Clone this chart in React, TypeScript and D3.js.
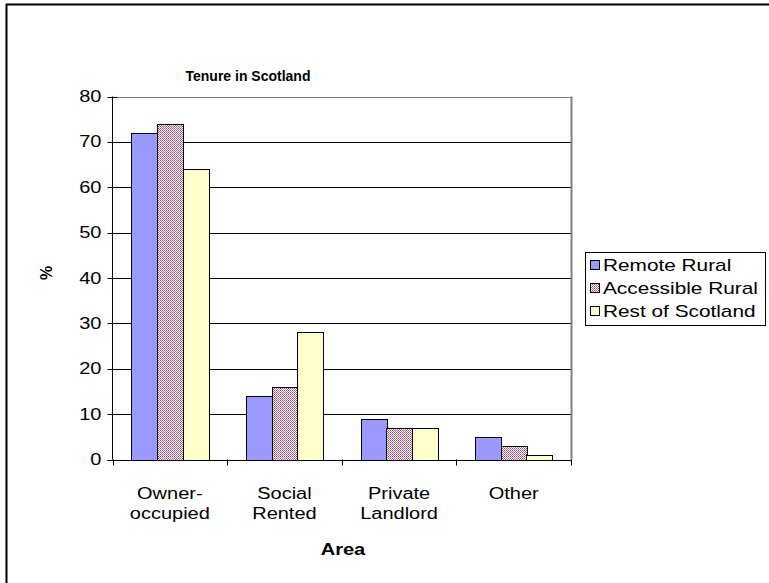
import React from "react";
import * as d3 from "d3";

const categories = ["Owner-occupied", "Social Rented", "Private Landlord", "Other"];
const categoryLines = [["Owner-", "occupied"], ["Social", "Rented"], ["Private", "Landlord"], ["Other"]];
const seriesNames = ["Remote Rural", "Accessible Rural", "Rest of Scotland"];
const remoteRural = [72, 14, 9, 5];
const accessibleRural = [74, 16, 7, 3];
const restOfScotland = [64, 28, 7, 1];
const yTicks = [0, 10, 20, 30, 40, 50, 60, 70, 80];

const seriesValues = [remoteRural, accessibleRural, restOfScotland];
const fills = ["#9999FF", "url(#hatch)", "#FFFFCC"];

const font = "Liberation Sans, Arial, sans-serif";

function SText(props: { x: number; y: number; sx: number; anchor?: string; size: number; bold?: boolean; children: React.ReactNode }) {
  return (
    <g transform={`translate(${props.x},${props.y}) scale(${props.sx},1)`}>
      <text x={0} y={0} textAnchor={props.anchor || "start"} fontFamily={font} fontSize={props.size}
        fontWeight={props.bold ? "bold" : "normal"}>{props.children}</text>
    </g>
  );
}

export default function App() {
  const W = 769, H = 583;
  const left = 112.5, right = 571, top = 96.5, bottom = 459.5;
  const y = d3.scaleLinear().domain([0, 80]).range([bottom, top]);
  const x0 = d3.scaleBand().domain(categories).range([left, right]).paddingInner(0.33).paddingOuter(0.165);
  const x1 = d3.scaleBand().domain(seriesNames).range([0, x0.bandwidth()]);
  const step = (right - left) / categories.length;
  const SX = 1.25;

  return (
    <svg width={W} height={H} style={{ position: "absolute", left: 0, top: 0 }}>
      <defs>
        <pattern id="hatch" width="2" height="2" patternUnits="userSpaceOnUse">
          <rect width="2" height="2" fill="#fff" />
          <rect x="0" y="0" width="1" height="1" fill="#a04870" />
          <rect x="1" y="1" width="1" height="1" fill="#c07898" />
        </pattern>
      </defs>
      <rect x={0} y={0} width={W} height={H} fill="#fff" />
      <rect x={6.5} y={4.5} width={900} height={900} fill="none" stroke="#000" strokeWidth={2} />
      <text x={248} y={81} textAnchor="middle" fontFamily={font} fontWeight="bold" fontSize={14}>Tenure in Scotland</text>
      {yTicks.filter(t => t > 0).map(t => (
        <line key={t} x1={left} x2={right} y1={Math.round(y(t)) + 0.5} y2={Math.round(y(t)) + 0.5}
          stroke={t === 80 ? "#808080" : "#000"} strokeWidth={1} />
      ))}
      <line x1={right + 0.5} x2={right + 0.5} y1={top} y2={bottom} stroke="#808080" strokeWidth={2} />
      {categories.map((c, ci) => (
        <g key={c}>
          {seriesNames.map((s, si) => {
            const v = seriesValues[si][ci];
            const bx = (x0(c) as number) + (x1(s) as number);
            return (
              <rect key={s} x={Math.round(bx) + 0.5} y={Math.round(y(v)) + 0.5}
                width={Math.round(x1.bandwidth())} height={Math.round(bottom) - Math.round(y(v))}
                fill={fills[si]} stroke="#000" strokeWidth={1} />
            );
          })}
        </g>
      ))}
      <line x1={left} x2={left} y1={top} y2={bottom} stroke="#000" strokeWidth={1} />
      <line x1={left - 5} x2={right} y1={Math.round(bottom) + 0.5} y2={Math.round(bottom) + 0.5} stroke="#000" strokeWidth={1} />
      {yTicks.map(t => (
        <g key={t}>
          <line x1={left - 5} x2={left + 5} y1={Math.round(y(t)) + 0.5} y2={Math.round(y(t)) + 0.5} stroke="#000" />
          <SText x={left - 11} y={y(t) + 5.5} sx={SX} anchor="end" size={16}>{t}</SText>
        </g>
      ))}
      {d3.range(categories.length + 1).map(i => (
        <line key={i} x1={Math.round(left + i * step) + 0.5} x2={Math.round(left + i * step) + 0.5}
          y1={bottom} y2={bottom + 6} stroke="#000" />
      ))}
      {categories.map((c, ci) => (
        <g key={c}>
          {categoryLines[ci].map((l, li) => (
            <SText key={li} x={(x0(c) as number) + x0.bandwidth() / 2} y={499 + li * 20} sx={SX} anchor="middle" size={16}>{l}</SText>
          ))}
        </g>
      ))}
      <SText x={343} y={555} sx={SX} anchor="middle" size={16} bold>Area</SText>
      <text transform="translate(52,273) rotate(-90)" textAnchor="middle" fontFamily={font} fontWeight="bold" fontSize={16}>%</text>
      <rect x={585.5} y={252.5} width={180} height={73} fill="#fff" stroke="#000" strokeWidth={1} />
      {seriesNames.map((s, si) => (
        <g key={s}>
          <rect x={590.5} y={260.5 + si * 23} width={9} height={9} fill={fills[si]} stroke="#000" />
          <SText x={603} y={271 + si * 23} sx={1.3} size={16}>{s}</SText>
        </g>
      ))}
    </svg>
  );
}
